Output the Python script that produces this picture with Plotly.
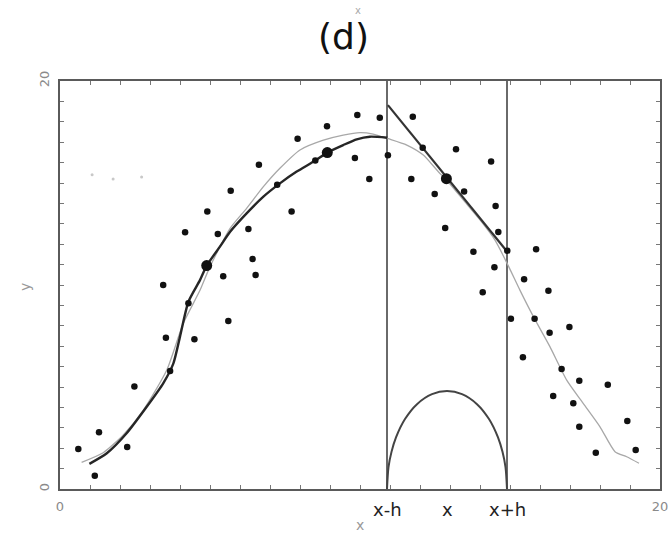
import plotly.graph_objects as go

# ---- data ----
pts_x = [0.61, 1.3, 1.16, 2.24, 2.48, 3.44, 3.53, 3.67, 4.28, 4.48, 5.44, 5.61,
         5.69, 4.91, 4.17, 5.26, 6.28, 6.63, 6.42, 6.52, 7.24, 7.72, 7.92, 8.51,
         8.9, 9.83, 9.91, 10.31, 10.66, 10.93, 11.76, 11.71, 12.09, 12.49, 13.2,
         13.47, 12.84, 13.78, 14.37, 14.52, 14.61, 14.91, 15.87, 14.48, 15.47,
         14.09, 16.28, 15.03, 15.82, 16.32, 16.98, 15.43, 16.72, 17.31, 18.26,
         16.44, 17.11, 17.31, 18.91, 17.86, 19.19]
pts_y = [1.96, 2.78, 0.65, 2.06, 5.03, 10.0, 7.42, 5.78, 9.1, 7.34, 10.43, 8.24,
         14.62, 13.6, 12.58, 12.5, 12.75, 15.9, 11.27, 10.49, 14.92, 13.6, 17.17, 16.1,
         17.78, 16.22, 18.33, 15.2, 18.2, 16.36, 18.25, 15.2, 16.73, 14.46, 16.65,
         14.58, 12.79, 11.63, 16.06, 13.87, 12.6, 11.68, 11.75, 10.87, 10.28,
         9.64, 9.72, 8.35, 8.35, 7.66, 7.94, 6.46, 5.88, 5.31, 5.11,
         4.56, 4.2, 3.05, 3.33, 1.78, 1.91]

big_x = [4.89, 8.91, 12.88]
big_y = [10.95, 16.49, 15.21]

faint_x = [1.07, 1.77, 2.72]
faint_y = [15.4, 15.2, 15.3]

gray_x = [0.72, 1.44, 2.11, 2.78, 3.56, 4.11, 4.67, 5.0, 5.67, 6.22, 6.78, 7.33,
          8.0, 8.78, 9.44, 10.0, 10.44, 10.94, 11.56, 12.11, 12.56, 13.0, 13.44,
          14.0, 14.5, 14.94, 15.33, 15.78, 16.33, 16.89, 17.44, 18.0, 18.5, 18.89, 19.3]
gray_y = [1.31, 1.78, 2.65, 3.87, 5.83, 8.12, 9.75, 10.9, 12.78, 13.76, 14.82, 15.72,
          16.62, 17.1, 17.35, 17.47, 17.4, 17.17, 16.86, 16.37, 15.64, 14.95, 14.17,
          13.19, 12.2, 10.95, 9.75, 8.45, 6.98, 5.34, 4.2, 3.05, 1.83, 1.58, 1.26]

dark_x = [0.98, 1.56, 2.22, 2.89, 3.44, 3.78, 4.0, 4.28, 4.67, 4.89, 5.33, 5.67,
          6.22, 6.78, 7.33, 7.89, 8.51, 8.91, 9.44, 9.89, 10.33, 10.91]
dark_y = [1.23, 1.75, 2.73, 4.03, 5.18, 6.16, 7.47, 9.18, 10.25, 10.95, 11.88, 12.61,
          13.51, 14.33, 14.98, 15.56, 16.1, 16.49, 16.86, 17.14, 17.27, 17.22]

local_x = [10.93, 14.91]
local_y = [18.82, 11.63]

x_lo, x_c, x_hi = 10.9, 12.9, 14.9

kern_x = [10.9, 10.95, 11.05, 11.2, 11.5, 11.9, 12.4, 12.9, 13.4, 13.9, 14.3, 14.6, 14.75, 14.85, 14.9]
kern_y = [0.0, 1.07, 1.82, 2.53, 3.43, 4.16, 4.65, 4.8, 4.65, 4.16, 3.43, 2.53, 1.82, 1.07, 0.0]

x_tick_vals = list(range(0, 21))
x_tick_text = ["0"] + [""] * 19 + ["20"]
y_tick_vals = list(range(0, 21))
y_tick_text = ["0"] + [""] * 19 + ["20"]

special_labels = ["x-h", "x", "x+h"]
special_pos = [x_lo, x_c, x_hi]

fig = go.Figure()

# vertical window lines
for xv in [x_lo, x_hi]:
    fig.add_trace(go.Scatter(x=[xv, xv], y=[0, 20], mode="lines",
                             line=dict(color="#6a6a6a", width=2), hoverinfo="skip"))

fig.add_trace(go.Scatter(x=gray_x, y=gray_y, mode="lines",
                         line=dict(color="#a8a8a8", width=1.3, shape="spline", smoothing=0.6)))
fig.add_trace(go.Scatter(x=dark_x, y=dark_y, mode="lines",
                         line=dict(color="#262626", width=2.4, shape="spline", smoothing=0.6)))
fig.add_trace(go.Scatter(x=local_x, y=local_y, mode="lines",
                         line=dict(color="#333333", width=2.2)))
fig.add_trace(go.Scatter(x=kern_x, y=kern_y, mode="lines",
                         line=dict(color="#444444", width=2, shape="spline", smoothing=0.8)))
fig.add_trace(go.Scatter(x=pts_x, y=pts_y, mode="markers",
                         marker=dict(color="#111111", size=6.5)))
fig.add_trace(go.Scatter(x=big_x, y=big_y, mode="markers",
                         marker=dict(color="#111111", size=11)))
fig.add_trace(go.Scatter(x=faint_x, y=faint_y, mode="markers",
                         marker=dict(color="#c8c8c8", size=3)))

for lab, pos in zip(special_labels, special_pos):
    fig.add_annotation(x=pos, y=0, xref="x", yref="y", text=lab, showarrow=False,
                       yshift=-20, font=dict(family="DejaVu Sans", size=18, color="#222222"))

# title and small mark above it
fig.add_annotation(x=0.5, y=1.0, xref="paper", yref="paper", yanchor="bottom",
                   xshift=-17, yshift=22, text="(d)", showarrow=False,
                   font=dict(family="DejaVu Sans", size=36, color="#111111"))
fig.add_annotation(x=0.5, y=1.0, xref="paper", yref="paper", yanchor="bottom",
                   xshift=-2, yshift=63, text="x", showarrow=False,
                   font=dict(family="DejaVu Sans", size=10, color="#aaaaaa"))

# axis titles
fig.add_annotation(x=10, y=0, xref="x", yref="paper", yanchor="middle", yshift=-36,
                   text="x", showarrow=False,
                   font=dict(family="DejaVu Sans", size=14, color="#999999"))
fig.add_annotation(x=0, y=0.5, xref="paper", yref="paper", xanchor="center",
                   xshift=-35, yshift=-2, text="y", textangle=-90, showarrow=False,
                   font=dict(family="DejaVu Sans", size=14, color="#999999"))

axis_common = dict(showgrid=False, zeroline=False, showline=True, linecolor="#5a5a5a",
                   linewidth=2, mirror="ticks", ticks="inside", ticklen=4, tickwidth=1,
                   tickcolor="#777777", range=[0, 20], ticklabelstandoff=4, automargin=False,
                   tickfont=dict(family="DejaVu Sans", size=13, color="#8a8a8a"))

fig.update_layout(
    width=672, height=535, showlegend=False,
    margin=dict(l=60, r=12, t=81, b=46),
    paper_bgcolor="white", plot_bgcolor="white",
    xaxis=dict(**axis_common, tickvals=x_tick_vals, ticktext=x_tick_text),
    yaxis=dict(**axis_common, tickvals=y_tick_vals, ticktext=y_tick_text, tickangle=-90),
)

fig.write_html("out.html")
